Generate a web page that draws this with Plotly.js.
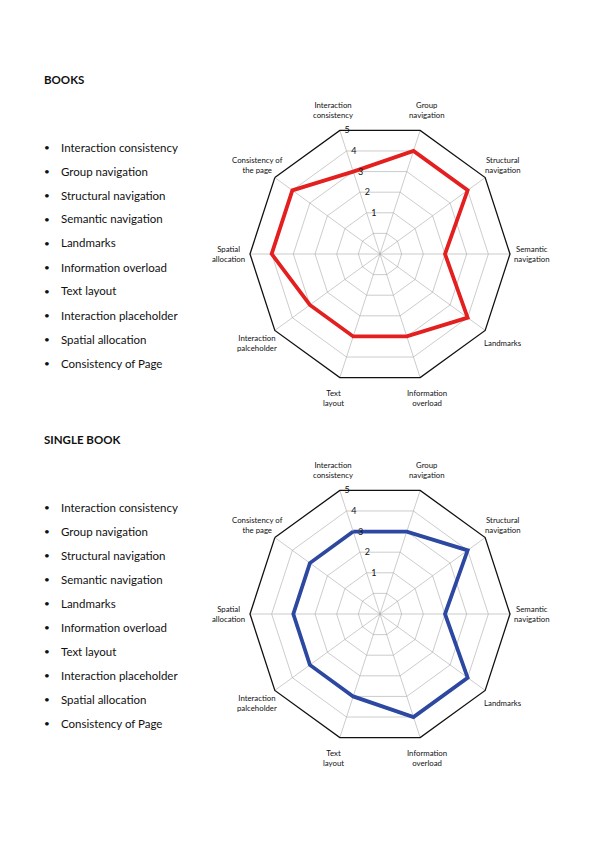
<!DOCTYPE html>
<html>
<head>
<meta charset="utf-8">
<script src="https://cdn.plot.ly/plotly-3.0.1.min.js"></script>
<style>
html,body{margin:0;padding:0;background:#fff;}
#chart{width:595px;height:842px;}
</style>
</head>
<body>
<div id="chart"></div>
<script>
// ---- data ----
var categories = [
  "Interaction<br>consistency",
  "Group<br>navigation",
  "Structural<br>navigation",
  "Semantic<br>navigation",
  "Landmarks",
  "Information<br>overload",
  "Text<br>layout",
  "Interaction<br>palceholder",
  "Spatial<br>allocation",
  "Consistency of<br>the page"
];
var booksValues      = [3, 4, 4, 2, 4, 3, 3, 3, 4, 4];
var singleBookValues = [3, 3, 4, 2, 4, 4, 3, 3, 3, 3];
var radialTickVals = [0, 1, 2, 3, 4, 5];
var radialTickText = ["", "1", "2", "3", "4", "5"];
var listItems = [
  "Interaction consistency",
  "Group navigation",
  "Structural navigation",
  "Semantic navigation",
  "Landmarks",
  "Information overload",
  "Text layout",
  "Interaction placeholder",
  "Spatial allocation",
  "Consistency of Page"
];
var sectionTitles = ["BOOKS", "SINGLE BOOK"];

// ---- layout helpers ----
var W = 595, H = 842;
function px(x){ return x / W; }
function py(y){ return 1 - y / H; }
function closed(arr){ return arr.concat([arr[0]]); }

var FONT = 'Lato, sans-serif';
var R = 130, CX = 380, CENTERS_Y = [254, 614];
var RMIN = -1, RMAX = 5, ROTATION = 108;
var LABEL_VALUE = 6.0;

function seriesTrace(values, color, subplot){
  return {type:'scatterpolar', r: closed(values), theta: closed(categories),
    mode:'lines', line:{color:color, width:3.8}, subplot:subplot, hoverinfo:'skip'};
}

var traces = [
  seriesTrace(booksValues, '#e3201f', 'polar'),
  seriesTrace(singleBookValues, '#2d48a0', 'polar2')
];

function polarCfg(cy){
  return {
    domain:{x:[px(CX-R), px(CX+R)], y:[py(cy+R), py(cy-R)]},
    bgcolor:'rgba(0,0,0,0)',
    gridshape:'linear',
    angularaxis:{
      type:'category', categoryorder:'array', categoryarray:categories,
      rotation:ROTATION, direction:'clockwise',
      showline:true, linecolor:'#111', linewidth:1.3,
      gridcolor:'#aaaaaa', gridwidth:0.6,
      ticks:'', showticklabels:false
    },
    radialaxis:{
      range:[RMIN, RMAX], angle:ROTATION, tickangle:ROTATION,
      tickvals:radialTickVals, ticktext:radialTickText,
      showline:false, ticks:'',
      gridcolor:'#aaaaaa', gridwidth:0.6,
      tickfont:{family:FONT, size:9, color:'#111'}
    }
  };
}

var annotations = [];
var titleY = [80, 440];
var listStart = [147, 507];
for (var s = 0; s < 2; s++){
  annotations.push({xref:'paper', yref:'paper', x:px(42), y:py(titleY[s]),
    xanchor:'left', yanchor:'middle', showarrow:false,
    text:'<b>'+sectionTitles[s]+'</b>',
    font:{family:FONT, size:11.5, color:'#111'}});
  for (var i = 0; i < listItems.length; i++){
    var yy = listStart[s] + i*24;
    annotations.push({xref:'paper', yref:'paper', x:px(46.5), y:py(yy),
      xanchor:'center', yanchor:'middle', showarrow:false, text:'•',
      font:{family:FONT, size:10, color:'#111'}});
    annotations.push({xref:'paper', yref:'paper', x:px(59), y:py(yy),
      xanchor:'left', yanchor:'middle', showarrow:false, text:listItems[i],
      font:{family:FONT, size:11.5, color:'#111'}});
  }
  // category labels around each radar, placed from the polar geometry
  var rr = R * (LABEL_VALUE - RMIN) / (RMAX - RMIN);
  for (var k = 0; k < categories.length; k++){
    var ang = (ROTATION - k * 360 / categories.length) * Math.PI / 180;
    annotations.push({xref:'paper', yref:'paper',
      x:px(CX + rr*Math.cos(ang)), y:py(CENTERS_Y[s] - rr*Math.sin(ang)),
      xanchor:'center', yanchor:'middle', align:'center', showarrow:false,
      text:categories[k],
      font:{family:FONT, size:7.8, color:'#111'}});
  }
}

var layout = {
  width:W, height:H,
  margin:{l:0,r:0,t:0,b:0},
  paper_bgcolor:'#fff',
  showlegend:false,
  polar: polarCfg(CENTERS_Y[0]),
  polar2: polarCfg(CENTERS_Y[1]),
  annotations: annotations
};

Plotly.newPlot('chart', traces, layout, {staticPlot:true, displayModeBar:false});
</script>
</body>
</html>
